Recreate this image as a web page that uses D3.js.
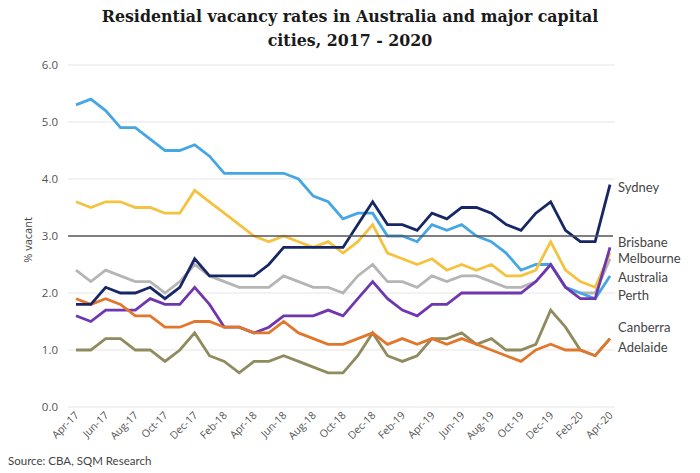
<!DOCTYPE html>
<html><head><meta charset="utf-8">
<script src="https://cdn.jsdelivr.net/npm/d3@7/dist/d3.min.js"></script>
<style>
body{margin:0;background:#fff;}
svg{display:block;}
</style></head>
<body>
<svg id="chart" width="700" height="473"></svg>
<script>
const months = ["Apr-17","May-17","Jun-17","Jul-17","Aug-17","Sep-17","Oct-17","Nov-17","Dec-17","Jan-18","Feb-18","Mar-18","Apr-18","May-18","Jun-18","Jul-18","Aug-18","Sep-18","Oct-18","Nov-18","Dec-18","Jan-19","Feb-19","Mar-19","Apr-19","May-19","Jun-19","Jul-19","Aug-19","Sep-19","Oct-19","Nov-19","Dec-19","Jan-20","Feb-20","Mar-20","Apr-20"];
const tickLabels = ["Apr-17","Jun-17","Aug-17","Oct-17","Dec-17","Feb-18","Apr-18","Jun-18","Aug-18","Oct-18","Dec-18","Feb-19","Apr-19","Jun-19","Aug-19","Oct-19","Dec-19","Feb-20","Apr-20"];
const yTicks = [0,1,2,3,4,5,6];

const sydney    = [1.8,1.8,2.1,2.0,2.0,2.1,1.9,2.1,2.6,2.3,2.3,2.3,2.3,2.5,2.8,2.8,2.8,2.8,2.8,3.2,3.6,3.2,3.2,3.1,3.4,3.3,3.5,3.5,3.4,3.2,3.1,3.4,3.6,3.1,2.9,2.9,3.9];
const perth     = [5.3,5.4,5.2,4.9,4.9,4.7,4.5,4.5,4.6,4.4,4.1,4.1,4.1,4.1,4.1,4.0,3.7,3.6,3.3,3.4,3.4,3.0,3.0,2.9,3.2,3.1,3.2,3.0,2.9,2.7,2.4,2.5,2.5,2.1,2.0,1.9,2.3];
const brisbane  = [3.6,3.5,3.6,3.6,3.5,3.5,3.4,3.4,3.8,3.6,3.4,3.2,3.0,2.9,3.0,2.9,2.8,2.9,2.7,2.9,3.2,2.7,2.6,2.5,2.6,2.4,2.5,2.4,2.5,2.3,2.3,2.4,2.9,2.4,2.2,2.1,2.7];
const australia = [2.4,2.2,2.4,2.3,2.2,2.2,2.0,2.2,2.5,2.3,2.2,2.1,2.1,2.1,2.3,2.2,2.1,2.1,2.0,2.3,2.5,2.2,2.2,2.1,2.3,2.2,2.3,2.3,2.2,2.1,2.1,2.2,2.5,2.1,2.0,2.0,2.6];
const melbourne = [1.6,1.5,1.7,1.7,1.7,1.9,1.8,1.8,2.1,1.8,1.4,1.4,1.3,1.4,1.6,1.6,1.6,1.7,1.6,1.9,2.2,1.9,1.7,1.6,1.8,1.8,2.0,2.0,2.0,2.0,2.0,2.2,2.5,2.1,1.9,1.9,2.8];
const adelaide  = [1.9,1.8,1.9,1.8,1.6,1.6,1.4,1.4,1.5,1.5,1.4,1.4,1.3,1.3,1.5,1.3,1.2,1.1,1.1,1.2,1.3,1.1,1.2,1.1,1.2,1.1,1.2,1.1,1.0,0.9,0.8,1.0,1.1,1.0,1.0,0.9,1.2];
const canberra  = [1.0,1.0,1.2,1.2,1.0,1.0,0.8,1.0,1.3,0.9,0.8,0.6,0.8,0.8,0.9,0.8,0.7,0.6,0.6,0.9,1.3,0.9,0.8,0.9,1.2,1.2,1.3,1.1,1.2,1.0,1.0,1.1,1.7,1.4,1.0,0.9,1.2];

const labelNames  = ["Sydney","Brisbane","Melbourne","Australia","Perth","Canberra","Adelaide"];
const labelValues = [3.86,2.89,2.6,2.28,1.95,1.39,1.04];

const svg = d3.select("#chart");
const x = d3.scalePoint().domain(months).range([76, 610]);
const y = d3.scaleLinear().domain([0, 6]).range([407, 65]);

// Title
const titleLines = ["Residential vacancy rates in Australia and major capital", "cities, 2017 - 2020"];
const title = svg.append("g");
const t1 = title.append("text").attr("x", 350).attr("y", 22).attr("text-anchor","middle")
  .attr("font-family","DejaVu Serif").attr("font-weight","bold").attr("font-size",16)
  .attr("fill","#1a1a1a").text(titleLines[0]);
const w = t1.node().getComputedTextLength();
const fs = 16 * 497 / w;
t1.attr("font-size", fs);
title.append("text").attr("x", 350).attr("y", 46).attr("text-anchor","middle")
  .attr("font-family","DejaVu Serif").attr("font-weight","bold").attr("font-size",fs)
  .attr("fill","#1a1a1a").text(titleLines[1]);

// Grid
svg.append("g").selectAll("line").data(yTicks.filter(d => d !== 3)).join("line")
  .attr("x1", 68).attr("x2", 615).attr("y1", d => y(d)).attr("y2", d => y(d))
  .attr("stroke", "#e6e6e6").attr("stroke-width", 1.2);

// Y axis labels
const yAxis = svg.append("g").attr("transform","translate(58,0)")
  .call(d3.axisLeft(y).tickValues(yTicks).tickFormat(d3.format(".1f")).tickSize(0).tickPadding(0));
yAxis.select(".domain").remove();
yAxis.selectAll("text").attr("font-family","Open Sans").attr("font-size",11.5).attr("fill","#555");

svg.append("text").attr("transform","translate(32,240) rotate(-90)").attr("text-anchor","middle")
  .attr("font-family","Open Sans").attr("font-size",11).attr("fill","#444").text("% vacant");

// X axis labels
const xAxis = svg.append("g").attr("transform","translate(0,410)")
  .call(d3.axisBottom(x).tickValues(tickLabels).tickSize(0).tickPadding(0));
xAxis.select(".domain").remove();
xAxis.selectAll("text").attr("font-family","Open Sans").attr("font-size",10.5).attr("fill","#555")
  .attr("text-anchor","end").attr("dy",0).attr("transform","translate(3,6) rotate(-45)");

// Lines
const series = [
  {v: australia, c: "#b5b5b5"},
  {v: perth,     c: "#45a6e4"},
  {v: brisbane,  c: "#f4c23e"},
  {v: canberra,  c: "#8f8b5e"},
  {v: melbourne, c: "#6e37b0"},
  {v: adelaide,  c: "#e2772c"},
  {v: sydney,    c: "#172765"}
];
const line = d3.line().x((d,i) => x(months[i])).y(d => y(d));
svg.append("g").selectAll("path").data(series).join("path")
  .attr("d", d => line(d.v)).attr("fill","none").attr("stroke", d => d.c)
  .attr("stroke-width", 2.8).attr("stroke-linejoin","miter");

// 3.0 reference line
svg.append("line").attr("x1",68).attr("x2",613).attr("y1",y(3)).attr("y2",y(3))
  .attr("stroke","#555").attr("stroke-width",1.3);

// Right labels
svg.append("g").selectAll("text").data(labelNames).join("text")
  .attr("x", 618).attr("y", (d,i) => y(labelValues[i])).attr("dy","0.35em")
  .attr("font-family","Lato").attr("font-size",13).attr("fill","#444").text(d => d);

// Source
svg.append("text").attr("x", 8).attr("y", 465).attr("font-family","Lato").attr("font-size",11.5)
  .attr("fill","#444").text("Source: CBA, SQM Research");
</script>
</body></html>
